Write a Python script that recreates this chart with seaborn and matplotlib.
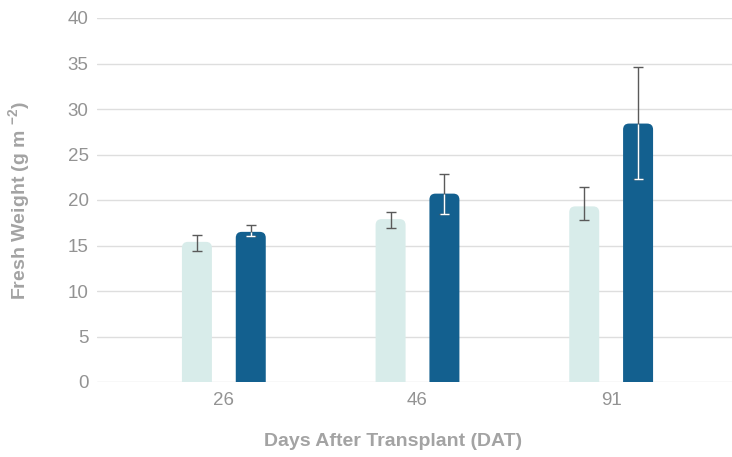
import pandas as pd
import seaborn as sns
import matplotlib.pyplot as plt
from matplotlib.patches import FancyBboxPatch

# values
days = ["26", "46", "91"]
series = ["Control", "Treatment"]
control_mean = [15.4, 17.9, 19.3]
control_low = [14.4, 16.9, 17.8]
control_high = [16.1, 18.7, 21.4]
treat_mean = [16.5, 20.7, 28.4]
treat_low = [16.0, 18.5, 22.3]
treat_high = [17.3, 22.9, 34.6]

colors = ["#d8ecea", "#13608f"]
grid_col = "#dedede"
tick_col = "#939393"
label_col = "#a3a3a3"

df = pd.DataFrame({
    "Day": days * 2,
    "Series": [series[0]] * 3 + [series[1]] * 3,
    "Weight": control_mean + treat_mean,
})

sns.set_style("white")
plt.rcParams["font.family"] = ["Liberation Sans", "DejaVu Sans"]

fig = plt.figure(figsize=(7.32, 4.57), dpi=100)
ax = fig.add_axes([97 / 732, 75 / 457, 635 / 732, 364 / 457])

sns.barplot(data=df, x="Day", y="Weight", hue="Series", order=days,
            hue_order=series, palette=colors, saturation=1, width=0.556,
            gap=0.443, errorbar=None, legend=False, ax=ax)

ax.set_xlim(-0.655, 2.624)
ax.set_ylim(0, 40)
ax.set_yticks(range(0, 41, 5))

# px -> data scales, used to get round corners that look circular
x_per_px = (2.624 + 0.655) / 635
y_per_px = 40 / 364
r = 6 * x_per_px

bars = list(ax.patches)
centers = {}
for p in bars:
    x0, w, h = p.get_x(), p.get_width(), p.get_height()
    fc = p.get_facecolor()
    p.remove()
    fb = FancyBboxPatch((x0, -2), w, h + 2,
                        boxstyle=f"round,pad=0,rounding_size={r}",
                        mutation_aspect=y_per_px / x_per_px,
                        fc=fc, ec="none", zorder=2)
    ax.add_patch(fb)
    centers.setdefault(round(h, 3), x0 + w / 2)

means = [control_mean, treat_mean]
lows = [control_low, treat_low]
highs = [control_high, treat_high]
cap = 4.5 * x_per_px
for s in range(2):
    xs = [centers[round(m, 3)] for m in means[s]]
    yerr = [[m - lo for m, lo in zip(means[s], lows[s])],
            [hi - m for m, hi in zip(means[s], highs[s])]]
    ax.errorbar(xs, means[s], yerr=yerr, fmt="none", ecolor="#5a5a5a",
                elinewidth=1, capsize=3.3, capthick=1, zorder=3)
    if s == 1:
        # part of the error bar inside the dark bar is white
        for x, m, lo in zip(xs, means[s], lows[s]):
            ax.vlines(x, lo, m, color="white", lw=1, zorder=4)
            ax.hlines(lo, x - cap, x + cap, color="white", lw=1, zorder=4)

ax.grid(axis="y", color=grid_col, lw=1)
ax.set_axisbelow(True)
sns.despine(ax=ax, left=True, bottom=True, top=True, right=True)
ax.tick_params(axis="both", length=0, labelsize=13.5, colors=tick_col)
ax.tick_params(axis="y", pad=6)
ax.tick_params(axis="x", pad=7)

ax.set_xlabel("Days After Transplant (DAT)", fontsize=14, fontweight="bold",
              color=label_col)
ax.set_ylabel(r"Fresh Weight (g m $\mathregular{^{-2}}$)", fontsize=14,
              fontweight="bold", color=label_col)
ax.xaxis.set_label_coords((393 - 97) / 635, -(433 - 382) / 364)
ax.yaxis.set_label_coords(-(97 - 32) / 635, 0.5)

fig.savefig("out.png", dpi=100)
